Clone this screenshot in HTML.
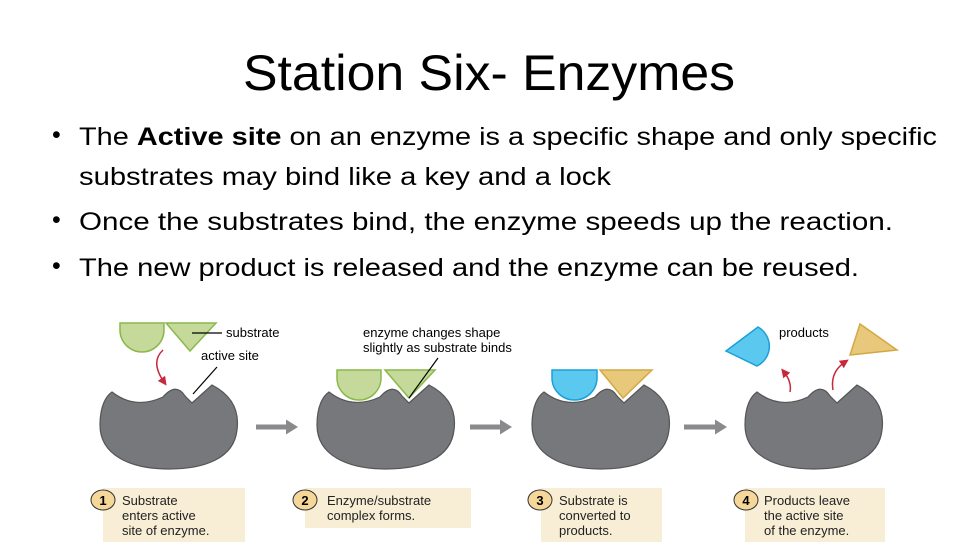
<!DOCTYPE html>
<html><head><meta charset="utf-8"><style>
html,body{margin:0;padding:0;background:#fff;}
svg{display:block;}
</style></head><body>
<svg width="978" height="550" viewBox="0 0 978 550" xmlns="http://www.w3.org/2000/svg" font-family="Liberation Sans, sans-serif">
<defs>
<path id="enz" d="M112,392 Q135,410 163,397 Q176,382 185,396 L192,403 L212,385 Q241,400 237,430 C234,458 205,469 169,469 C130,469 100,455 100,425 C100,406 106,396 112,392 Z" fill="#77787b" stroke="#555" stroke-width="1.2"/>
<marker id="ah" markerWidth="6" markerHeight="6" refX="3" refY="3" orient="auto"><path d="M0,0 L6,3 L0,6 Z" fill="#c8283c"/></marker>
</defs>
<text x="489" y="90" text-anchor="middle" font-size="50" textLength="492" lengthAdjust="spacingAndGlyphs" fill="#000">Station Six- Enzymes</text>
<g font-size="25" fill="#000">
<text x="52" y="143">•</text>
<text x="79" y="145" textLength="858" lengthAdjust="spacingAndGlyphs">The <tspan font-weight="bold">Active site</tspan> on an enzyme is a specific shape and only specific</text>
<text x="79" y="185" textLength="532" lengthAdjust="spacingAndGlyphs">substrates may bind like a key and a lock</text>
<text x="52" y="228">•</text>
<text x="79" y="230" textLength="814" lengthAdjust="spacingAndGlyphs">Once the substrates bind, the enzyme speeds up the reaction.</text>
<text x="52" y="274">•</text>
<text x="79" y="276" textLength="780" lengthAdjust="spacingAndGlyphs">The new product is released and the enzyme can be reused.</text>
</g>
<!-- enzymes -->
<use href="#enz"/>
<use href="#enz" transform="translate(217,0)"/>
<use href="#enz" transform="translate(432,0)"/>
<use href="#enz" transform="translate(645,0)"/>
<!-- substrate 1 -->
<path d="M120,323 L164,323 L164,330 A22,22 0 0 1 120,330 Z" fill="#c5da9a" stroke="#8ab84a" stroke-width="1.5"/>
<path d="M166,323 L216,323 L190,351 Z" fill="#c5da9a" stroke="#8ab84a" stroke-width="1.5"/>
<line x1="192" y1="333" x2="222" y2="333" stroke="#000" stroke-width="1.2"/>
<text x="226" y="337" font-size="13">substrate</text>
<text x="201" y="360" font-size="13">active site</text>
<line x1="217" y1="367" x2="193" y2="394" stroke="#000" stroke-width="1.2"/>
<path d="M163,350 Q150,362 164,382" fill="none" stroke="#c8283c" stroke-width="1.5" marker-end="url(#ah)"/>
<!-- substrate 2 -->
<path d="M337,370 L381,370 L381,378 A22,22 0 0 1 337,378 Z" fill="#c5da9a" stroke="#8ab84a" stroke-width="1.5"/>
<path d="M385,370 L435,370 L409,398 Z" fill="#c5da9a" stroke="#8ab84a" stroke-width="1.5"/>
<text x="363" y="337" font-size="13">enzyme changes shape</text>
<text x="363" y="352" font-size="13">slightly as substrate binds</text>
<line x1="438" y1="358" x2="409" y2="398" stroke="#000" stroke-width="1.2"/>
<!-- products 3 -->
<path d="M552,370 L597,370 L597,378 A22.5,22 0 0 1 552,378 Z" fill="#5bc8f0" stroke="#1ba0d8" stroke-width="1.5"/>
<path d="M600,370 L652,370 L623,398 Z" fill="#e8c87a" stroke="#d4a843" stroke-width="1.5"/>
<!-- products 4 -->
<path d="M726,351 L758,327 A22,22 0 0 1 757,366 Z" fill="#5bc8f0" stroke="#1ba0d8" stroke-width="1.5"/>
<path d="M850,355 L860,324 L897,350 Z" fill="#e8c87a" stroke="#d4a843" stroke-width="1.5"/>
<text x="779" y="337" font-size="13">products</text>
<path d="M790,392 Q792,382 784,372" fill="none" stroke="#c8283c" stroke-width="1.5" marker-end="url(#ah)"/>
<path d="M833,390 Q830,372 845,362" fill="none" stroke="#c8283c" stroke-width="1.5" marker-end="url(#ah)"/>
<!-- gray arrows -->
<g fill="#8a8a8c">
<path d="M256,424.5 h30 v-5 l12,7.5 l-12,7.5 v-5 h-30 Z"/>
<path d="M470,424.5 h30 v-5 l12,7.5 l-12,7.5 v-5 h-30 Z"/>
<path d="M684,424.5 h31 v-5 l12,7.5 l-12,7.5 v-5 h-31 Z"/>
</g>
<!-- label boxes -->
<g fill="#f8eed5">
<rect x="103" y="488" width="142" height="54"/>
<rect x="305" y="488" width="166" height="40"/>
<rect x="541" y="488" width="121" height="54"/>
<rect x="745" y="488" width="140" height="54"/>
</g>
<g fill="#f5d899" stroke="#333" stroke-width="1">
<ellipse cx="103" cy="500" rx="12" ry="10"/>
<ellipse cx="305" cy="500" rx="12" ry="10"/>
<ellipse cx="540" cy="500" rx="12" ry="10"/>
<ellipse cx="746" cy="500" rx="12" ry="10"/>
</g>
<g font-size="13" font-weight="bold" text-anchor="middle">
<text x="103" y="505">1</text><text x="305" y="505">2</text><text x="540" y="505">3</text><text x="746" y="505">4</text>
</g>
<g font-size="13" fill="#222">
<text x="122" y="505">Substrate</text><text x="122" y="520">enters active</text><text x="122" y="535">site of enzyme.</text>
<text x="327" y="505">Enzyme/substrate</text><text x="327" y="520">complex forms.</text>
<text x="559" y="505">Substrate is</text><text x="559" y="520">converted to</text><text x="559" y="535">products.</text>
<text x="764" y="505">Products leave</text><text x="764" y="520">the active site</text><text x="764" y="535">of the enzyme.</text>
</g>
</svg>
</body></html>
